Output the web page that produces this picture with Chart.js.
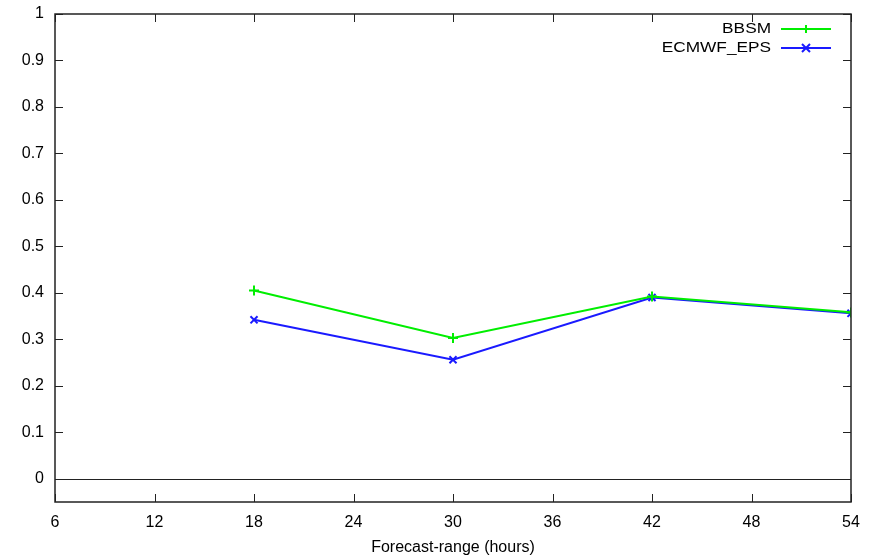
<!DOCTYPE html>
<html>
<head>
<meta charset="utf-8">
<script src="https://cdn.jsdelivr.net/npm/chart.js@4/dist/chart.umd.min.js"></script>
<style>
  html, body { margin: 0; padding: 0; background: #fff; }
  #wrap { width: 871px; height: 557px; }
</style>
</head>
<body>
<div id="wrap"><canvas id="chart" width="871" height="557"></canvas></div>
<script>
// data
const forecastHours = [18, 30, 42, 54];
const bbsm = [0.405, 0.303, 0.392, 0.358];
const ecmwfEps = [0.342, 0.256, 0.390, 0.356];
const xTicks = [6, 12, 18, 24, 30, 36, 42, 48, 54];
const yTicks = [0, 0.1, 0.2, 0.3, 0.4, 0.5, 0.6, 0.7, 0.8, 0.9, 1];

const FONT = '"Liberation Sans", Arial, sans-serif';
const INK = '#222';

// gnuplot style frame: box, inward ticks on all sides, zero line, legend
const gnuplotFrame = {
    id: 'gnuplotFrame',
    afterDatasetsDraw(chart) {
        const { ctx, chartArea: a, scales } = chart;
        const x = scales.x, y = scales.y;
        const tl = 8;
        ctx.save();
        ctx.strokeStyle = INK;
        ctx.lineWidth = 1;

        // zero line
        const y0 = Math.round(y.getPixelForValue(0)) + 0.5;
        ctx.beginPath();
        ctx.moveTo(a.left, y0);
        ctx.lineTo(a.right, y0);
        ctx.stroke();

        // ticks
        ctx.beginPath();
        yTicks.forEach(v => {
            const py = Math.round(y.getPixelForValue(v)) + 0.5;
            ctx.moveTo(a.left, py); ctx.lineTo(a.left + tl, py);
            ctx.moveTo(a.right, py); ctx.lineTo(a.right - tl, py);
        });
        xTicks.forEach(v => {
            const px = Math.round(x.getPixelForValue(v)) + 0.5;
            ctx.moveTo(px, a.bottom); ctx.lineTo(px, a.bottom - tl);
            ctx.moveTo(px, a.top); ctx.lineTo(px, a.top + tl);
        });
        ctx.stroke();

        // box
        ctx.lineWidth = 1.5;
        ctx.strokeRect(a.left, a.top, a.right - a.left, a.bottom - a.top);

        // legend (text a little stretched like the original)
        ctx.textAlign = 'right';
        ctx.textBaseline = 'middle';
        chart.data.datasets.forEach((ds, i) => {
            const ly = a.top + 15 + i * 19;
            const tx = a.right - 80;
            ctx.save();
            ctx.translate(tx, ly);
            ctx.scale(1.15, 1);
            ctx.font = '15px ' + FONT;
            ctx.fillStyle = '#000';
            ctx.fillText(ds.label, 0, 0);
            ctx.restore();
            ctx.strokeStyle = ds.borderColor;
            ctx.lineWidth = 2;
            ctx.beginPath();
            ctx.moveTo(tx + 10, ly);
            ctx.lineTo(tx + 60, ly);
            ctx.stroke();
            const cx = tx + 35, r = 4;
            ctx.beginPath();
            if (ds.pointStyle === 'cross') {
                ctx.moveTo(cx - r, ly); ctx.lineTo(cx + r, ly);
                ctx.moveTo(cx, ly - r); ctx.lineTo(cx, ly + r);
            } else {
                ctx.moveTo(cx - r, ly - r); ctx.lineTo(cx + r, ly + r);
                ctx.moveTo(cx - r, ly + r); ctx.lineTo(cx + r, ly - r);
            }
            ctx.stroke();
        });
        ctx.restore();
    }
};

const toPoints = (xs, ys) => xs.map((v, i) => ({ x: v, y: ys[i] }));

new Chart(document.getElementById('chart'), {
    type: 'line',
    data: {
        datasets: [
            {
                label: 'BBSM',
                data: toPoints(forecastHours, bbsm),
                borderColor: '#00ee00',
                backgroundColor: '#00ee00',
                borderWidth: 2,
                pointStyle: 'cross',
                pointRadius: 5,
                pointBorderWidth: 2,
                tension: 0,
                fill: false
            },
            {
                label: 'ECMWF_EPS',
                data: toPoints(forecastHours, ecmwfEps),
                borderColor: '#1a1aff',
                backgroundColor: '#1a1aff',
                borderWidth: 2,
                pointStyle: 'crossRot',
                pointRadius: 5,
                pointBorderWidth: 2,
                tension: 0,
                fill: false
            }
        ]
    },
    options: {
        responsive: false,
        animation: false,
        layout: { padding: { top: 14, right: 20, left: 0, bottom: 0 } },
        plugins: {
            legend: { display: false },
            tooltip: { enabled: false }
        },
        scales: {
            x: {
                type: 'linear',
                min: 6,
                max: 54,
                grid: { display: false },
                border: { display: false },
                afterBuildTicks: scale => { scale.ticks = xTicks.map(v => ({ value: v })); },
                afterFit: scale => {
                    scale.height = 55;
                    scale.paddingLeft = 0;
                    scale.paddingRight = 0;
                },
                ticks: {
                    color: '#000',
                    font: { family: FONT, size: 16 },
                    padding: 3,
                    maxRotation: 0
                },
                title: {
                    display: true,
                    text: 'Forecast-range (hours)',
                    color: '#000',
                    font: { family: FONT, size: 16 },
                    padding: { top: 0, bottom: 0 }
                }
            },
            y: {
                type: 'linear',
                min: -0.05,
                max: 1,
                grid: { display: false },
                border: { display: false },
                afterBuildTicks: scale => { scale.ticks = yTicks.map(v => ({ value: v })); },
                afterFit: scale => {
                    scale.width = 55;
                    scale.paddingTop = 0;
                    scale.paddingBottom = 0;
                },
                ticks: {
                    color: '#000',
                    font: { family: FONT, size: 16 },
                    padding: 3,
                    callback: v => String(Math.round(v * 10) / 10)
                }
            }
        }
    },
    plugins: [gnuplotFrame]
});
</script>
</body>
</html>
